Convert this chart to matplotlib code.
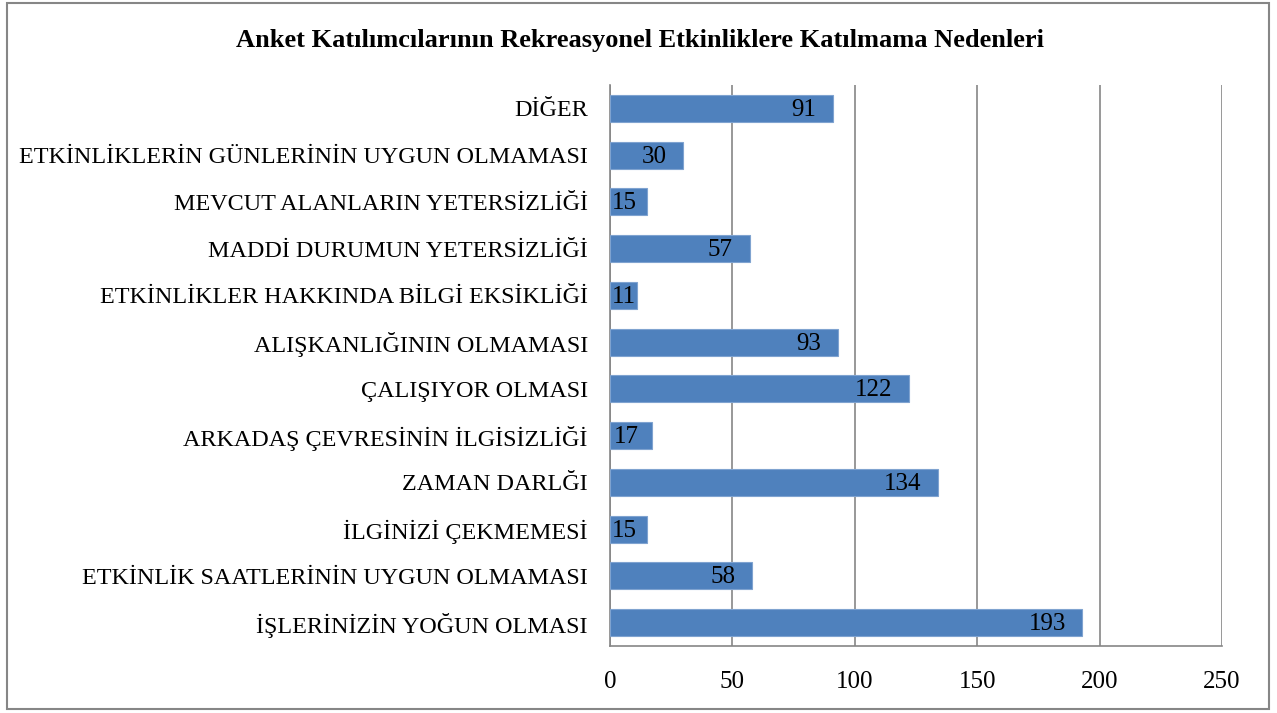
import matplotlib.pyplot as plt
from matplotlib.patches import Rectangle

plt.rcParams['font.family'] = ['Liberation Serif', 'DejaVu Serif']

categories = ['İŞLERİNİZİN YOĞUN OLMASI', 'ETKİNLİK SAATLERİNİN UYGUN OLMAMASI',
              'İLGİNİZİ ÇEKMEMESİ', 'ZAMAN DARLĞI', 'ARKADAŞ ÇEVRESİNİN İLGİSİZLİĞİ',
              'ÇALIŞIYOR OLMASI', 'ALIŞKANLIĞININ OLMAMASI',
              'ETKİNLİKLER HAKKINDA BİLGİ EKSİKLİĞİ', 'MADDİ DURUMUN YETERSİZLİĞİ',
              'MEVCUT ALANLARIN YETERSİZLİĞİ', 'ETKİNLİKLERİN GÜNLERİNİN UYGUN OLMAMASI',
              'DİĞER']
values = [193, 58, 15, 134, 17, 122, 93, 11, 57, 15, 30, 91]
xticks = [0, 50, 100, 150, 200, 250]
title = 'Anket Katılımcılarının Rekreasyonel Etkinliklere Katılmama Nedenleri'

fig = plt.figure(figsize=(12.77, 7.13), dpi=100)
ax = fig.add_axes([610 / 1277, 1 - 646 / 713, 612 / 1277, (646 - 85) / 713])

y = range(len(categories))
bars = ax.barh(y, values, height=0.58, color='#4F81BD', edgecolor='#7FA3D0', linewidth=0.8, zorder=3)
for b, v in zip(bars, values):
    yc = b.get_y() + b.get_height() / 2
    if v < 25:
        # short bars: label pushed against the axis
        ax.annotate(str(v), (0, yc), xytext=(1.5 + max(0, v - 15) * 0.7, -1),
                    textcoords='offset points', ha='left', va='center', fontsize=18, zorder=4)
    else:
        ax.annotate(str(v), (v, yc), xytext=(-12, -1),
                    textcoords='offset points', ha='right', va='center', fontsize=18, zorder=4)

ax.set_xlim(0, 250)
ax.set_ylim(-0.5, len(categories) - 0.5)
ax.set_xticks(xticks)
ax.set_xticklabels([str(t) for t in xticks], fontsize=18)
ax.set_yticks(list(y))
ax.set_yticklabels(categories, fontsize=17.4)
ax.tick_params(axis='both', length=0)
ax.tick_params(axis='x', pad=18)
ax.tick_params(axis='y', pad=16)
ax.grid(axis='x', color='#868686', linewidth=1.2, zorder=0)
ax.spines['top'].set_visible(False)
ax.spines['right'].set_visible(False)
for s in ['left', 'bottom']:
    ax.spines[s].set_color('#868686')
    ax.spines[s].set_linewidth(1.2)

fig.text(640 / 1277, 1 - 41 / 713, title, ha='center', va='center', fontsize=19, fontweight='bold')

fig.patches.append(Rectangle((7 / 1277, 4 / 713), 1262 / 1277, 706 / 713, transform=fig.transFigure,
                             fill=False, edgecolor='#868686', linewidth=1.5))

fig.savefig('out.png', dpi=100)
